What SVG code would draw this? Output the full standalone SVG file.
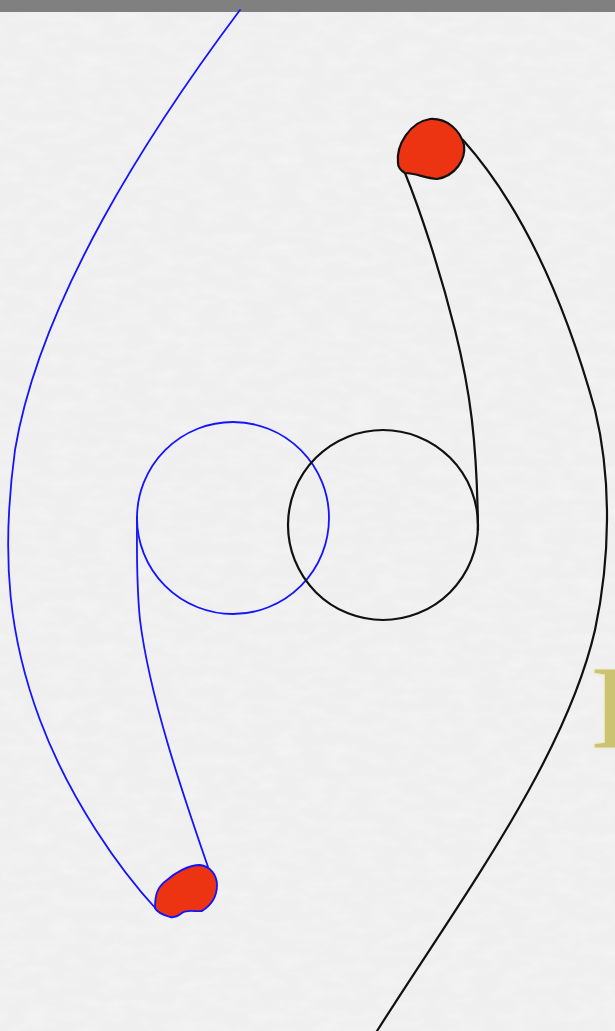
<svg xmlns="http://www.w3.org/2000/svg" width="615" height="1031" viewBox="0 0 615 1031">
  <defs>
    <filter id="paper" x="0" y="0" width="100%" height="100%">
      <feTurbulence type="fractalNoise" baseFrequency="0.04 0.09" numOctaves="3" seed="3" result="n"/>
      <feColorMatrix in="n" type="matrix" values="0 0 0 0 0.94  0 0 0 0 0.94  0 0 0 0 0.94  0 0 0 -0.9 0.55" result="c"/>
      <feComposite in="c" in2="SourceGraphic" operator="over"/>
    </filter>
  </defs>
  <style>
    .blue { fill: none; stroke: #1414ff; stroke-width: 1.8; stroke-linecap: round; stroke-linejoin: round; }
    .black { fill: none; stroke: #111111; stroke-width: 2.2; stroke-linecap: round; stroke-linejoin: round; }
    .blob { fill: #ec3412; }
    .gold { font-family: "Liberation Serif", serif; font-weight: bold; font-size: 121px; fill: #cbc272; stroke: #ecebc8; stroke-width: 1.2; }
  </style>
  <rect x="0" y="0" width="615" height="1031" fill="#efefef" filter="url(#paper)"/>
  <rect x="0" y="0" width="615" height="12" fill="#808080"/>

  <g id="blue-strand">
    <path class="blue" d="M240,10 C150,130 40,300 15,450 C0,560 10,640 40,720 C70,800 120,870 157,910"/>
    <path class="blue" d="M208,867 C185,800 150,700 140,620 C136,580 137,540 137,517"/>
    <circle class="blue" cx="233" cy="518" r="96"/>
    <path class="blue blob" d="M155,908 C155,895 157,887 167,880 C175,873 188,865 200,865 C210,866 217,875 217,885 C217,897 210,906 202,911 C195,912 188,909 182,913 C178,916 175,918 170,917 C163,915 157,912 155,908 Z"/>
  </g>

  <g id="black-strand">
    <path class="black" d="M463,140 C530,215 570,320 595,410 C612,480 610,560 595,630 C565,760 460,900 377,1031"/>
    <path class="black" d="M405,173 C420,210 440,270 455,330 C470,390 477,440 478,530"/>
    <circle class="black" cx="383" cy="525" r="95"/>
    <path class="black blob" d="M398,163 C396,145 410,122 430,119 C447,118 460,130 464,145 C466,160 455,176 437,179 C425,178 415,173 405,173 C400,170 398,166 398,163 Z"/>
  </g>

  <text class="gold" x="590" y="748">I</text>
</svg>
